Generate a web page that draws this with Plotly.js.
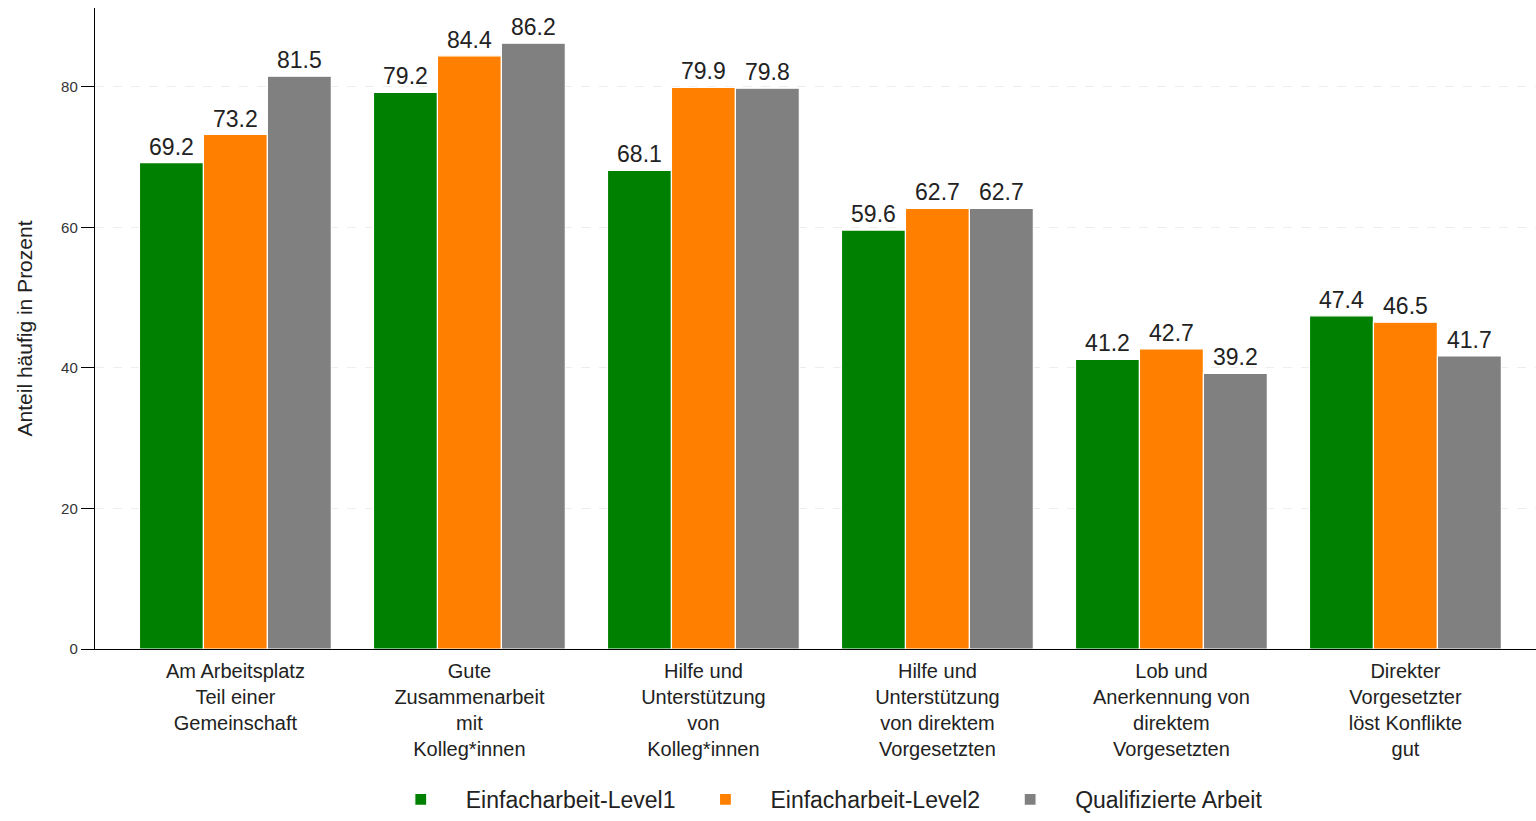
<!DOCTYPE html>
<html><head><meta charset="utf-8">
<script src="https://cdn.plot.ly/plotly-3.0.1.min.js"></script>
<style>html,body{margin:0;padding:0;background:#fff}#chart{width:1536px;height:821px}</style>
</head><body><div id="chart"></div>
<script>
const categories = [
  "Am Arbeitsplatz<br>Teil einer<br>Gemeinschaft",
  "Gute<br>Zusammenarbeit<br>mit<br>Kolleg*innen",
  "Hilfe und<br>Unterstützung<br>von<br>Kolleg*innen",
  "Hilfe und<br>Unterstützung<br>von direktem<br>Vorgesetzten",
  "Lob und<br>Anerkennung von<br>direktem<br>Vorgesetzten",
  "Direkter<br>Vorgesetzter<br>löst Konflikte<br>gut"
];
const seriesNames = ["Einfacharbeit-Level1", "Einfacharbeit-Level2", "Qualifizierte Arbeit"];
const level1 = [69.2, 79.2, 68.1, 59.6, 41.2, 47.4];
const level2 = [73.2, 84.4, 79.9, 62.7, 42.7, 46.5];
const qualifiziert = [81.5, 86.2, 79.8, 62.7, 39.2, 41.7];
const colors = ["#008000", "#FF8000", "#808080"];
const yTicks = [0, 20, 40, 60, 80];

const allValues = [level1, level2, qualifiziert];
const traces = allValues.map((vals, i) => ({
  type: "bar",
  name: seriesNames[i],
  x: categories,
  y: vals,
  text: vals.map(v => v.toFixed(1)),
  textposition: "outside",
  cliponaxis: false,
  textfont: {family: "Liberation Sans, Arial, sans-serif", size: 23, color: "#222"},
  marker: {color: colors[i], line: {color: "#ffffff", width: 1.2}}
}));

const layout = {
  width: 1536, height: 821,
  margin: {l: 95, r: 0, t: 8, b: 172},
  paper_bgcolor: "#fff", plot_bgcolor: "#fff",
  barmode: "group", bargap: 0.18, bargroupgap: 0,
  font: {family: "Liberation Sans, Arial, sans-serif", color: "#222"},
  xaxis: {
    range: [-0.6, 5.558],
    showline: true, linecolor: "#000", linewidth: 1.2,
    ticks: "", showgrid: false, zeroline: false,
    tickfont: {size: 20, color: "#222"},
    ticklabelstandoff: 4,
    automargin: false
  },
  yaxis: {
    range: [0, 91.2],
    tickvals: yTicks,
    showline: true, linecolor: "#000", linewidth: 1.2,
    ticks: "outside", ticklen: 13, tickcolor: "#000", tickwidth: 1,
    tickfont: {size: 15, color: "#333"},
    showgrid: true, gridcolor: "#eeeeee", griddash: "dash", gridwidth: 1,
    zeroline: false,
    title: {text: "Anteil häufig in Prozent", font: {size: 21, color: "#222"}, standoff: 22},
    automargin: false
  },
  legend: {
    orientation: "h", x: 0.535, xanchor: "center", xref: "container",
    y: -0.01, yanchor: "bottom", yref: "container",
    font: {size: 23, color: "#222"},
    itemwidth: 80, tracegroupgap: 0,
    traceorder: "normal"
  },
  showlegend: true
};

Plotly.newPlot("chart", traces, layout, {displayModeBar: false, staticPlot: true});
</script></body></html>
